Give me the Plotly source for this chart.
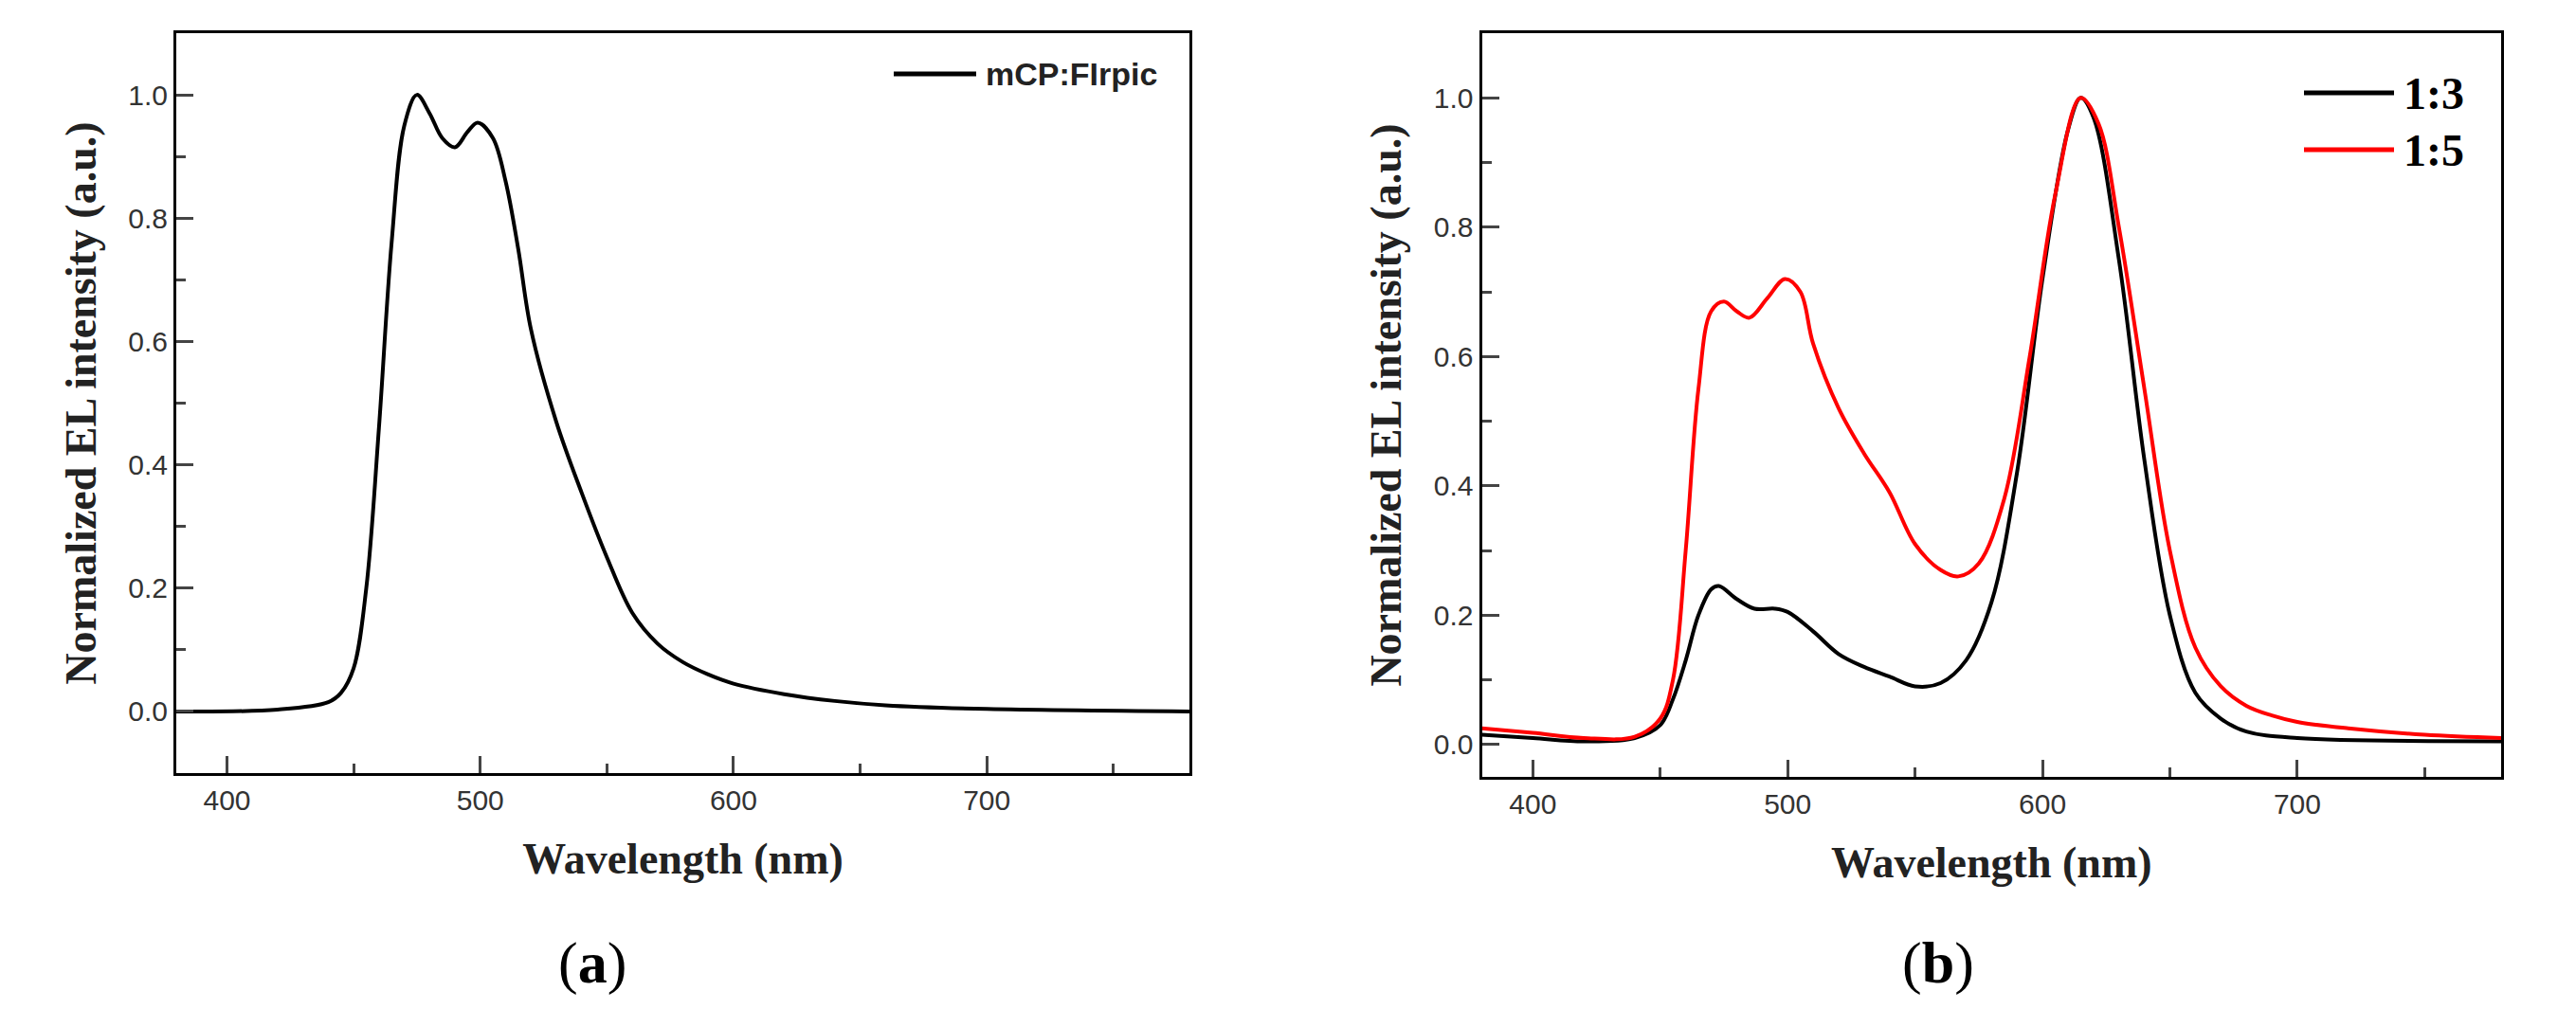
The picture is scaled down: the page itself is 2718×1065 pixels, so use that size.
import plotly.graph_objects as go

wl_a = [380,420,440,445,450,455,460,465,470,475,480,485,490,495,499,505,510,515,520,530,540,550,560,570,580,590,600,620,640,660,700,780]
int_a = [0,0.003,0.015,0.03,0.07,0.2,0.46,0.76,0.95,1.0,0.97,0.93,0.915,0.94,0.955,0.93,0.86,0.75,0.62,0.47,0.355,0.25,0.16,0.11,0.08,0.06,0.045,0.028,0.017,0.01,0.004,0.0]

wl_b1 = [380,400,420,440,450,455,460,465,470,473,480,487,495,500,510,520,530,540,550,560,570,580,590,600,610,615,620,630,640,650,660,670,680,700,780]
int_b1 = [0.015,0.01,0.005,0.01,0.03,0.07,0.13,0.2,0.24,0.245,0.225,0.21,0.21,0.205,0.175,0.14,0.12,0.105,0.09,0.095,0.13,0.22,0.42,0.72,0.95,1.0,0.97,0.75,0.44,0.2,0.08,0.04,0.02,0.01,0.005]

wl_b2 = [380,400,420,440,450,455,460,465,470,475,480,485,492,499,505,510,520,530,540,550,560,567,575,585,595,605,615,622,630,640,650,660,670,680,690,700,720,750,780]
int_b2 = [0.025,0.018,0.01,0.012,0.04,0.1,0.3,0.55,0.67,0.685,0.67,0.66,0.69,0.72,0.7,0.62,0.52,0.45,0.39,0.31,0.27,0.26,0.28,0.38,0.6,0.85,1.0,0.96,0.8,0.55,0.3,0.15,0.09,0.06,0.045,0.035,0.025,0.015,0.01]

xticks = [400, 500, 600, 700]
yticks = [0.0, 0.2, 0.4, 0.6, 0.8, 1.0]

fig = go.Figure()
fig.add_trace(go.Scatter(x=wl_a, y=int_a, mode="lines", line=dict(color="black", width=4, shape="spline"),
                         xaxis="x", yaxis="y", showlegend=False))
fig.add_trace(go.Scatter(x=wl_b1, y=int_b1, mode="lines", line=dict(color="black", width=4, shape="spline"),
                         xaxis="x2", yaxis="y2", showlegend=False))
fig.add_trace(go.Scatter(x=wl_b2, y=int_b2, mode="lines", line=dict(color="#ff0000", width=4, shape="spline"),
                         xaxis="x2", yaxis="y2", showlegend=False))

tickfont = dict(family="Arial, Liberation Sans", size=30, color="#333333")
titlefont = dict(family="Liberation Serif", size=46, color="#222222")

def xax(dom, anchor):
    return dict(domain=dom, anchor=anchor, range=[380, 780], tickvals=xticks, ticks="inside", ticklen=18, tickwidth=3,
                minor=dict(ticks="inside", ticklen=10, tickwidth=3, dtick=50, tick0=350), showline=True, linewidth=3,
                linecolor="black", mirror=True, showgrid=False, zeroline=False, tickfont=tickfont,
                title=dict(text="<b>Wavelength (nm)</b>", font=titlefont, standoff=30))

def yax(dom, anchor, rng):
    return dict(domain=dom, anchor=anchor, range=rng, tickvals=yticks, tickformat=".1f", ticks="inside", ticklen=18,
                tickwidth=3, minor=dict(ticks="inside", ticklen=10, tickwidth=3, dtick=0.1, tick0=0), showline=True,
                linewidth=3, linecolor="black", mirror=True, showgrid=False, zeroline=False, tickfont=tickfont,
                title=dict(text="<b>Normalized EL intensity (a.u.)</b>", font=titlefont, standoff=20))

fig.update_layout(
    width=2718, height=1065, margin=dict(l=0, r=0, t=0, b=0),
    plot_bgcolor="white", paper_bgcolor="white",
    xaxis=xax([0.0655, 0.4588], "y"), yaxis=yax([0.2413, 0.9746], "x", [-0.10, 1.10]),
    xaxis2=xax([0.5723, 0.968], "y2"), yaxis2=yax([0.2376, 0.9746], "x2", [-0.05, 1.10]),
)

# legends drawn as shapes/annotations in paper coordinates
def legend_item(x0, x1, y, color, text, font):
    fig.add_shape(type="line", xref="paper", yref="paper", x0=x0/2718, x1=x1/2718, y0=1-y/1065, y1=1-y/1065,
                  line=dict(color=color, width=5))
    fig.add_annotation(xref="paper", yref="paper", x=(x1+8)/2718, y=1-y/1065, text=text, showarrow=False,
                       xanchor="left", yanchor="middle", font=font)

legend_item(935, 1022, 70, "black", "<b>mCP:FIrpic</b>", dict(family="Arial, Liberation Sans", size=34, color="#222"))
legend_item(2423, 2518, 90, "black", "<b>1:3</b>", dict(family="Liberation Serif", size=48, color="black"))
legend_item(2423, 2518, 150, "#ff0000", "<b>1:5</b>", dict(family="Liberation Serif", size=48, color="black"))

for xc, lab in [(617, "(<b>a</b>)"), (2037, "(<b>b</b>)")]:
    fig.add_annotation(xref="paper", yref="paper", x=xc/2718, y=1-1008/1065, text=lab, showarrow=False,
                       xanchor="center", yanchor="middle", font=dict(family="Liberation Serif", size=62, color="black"))

fig.write_html("out.html")
